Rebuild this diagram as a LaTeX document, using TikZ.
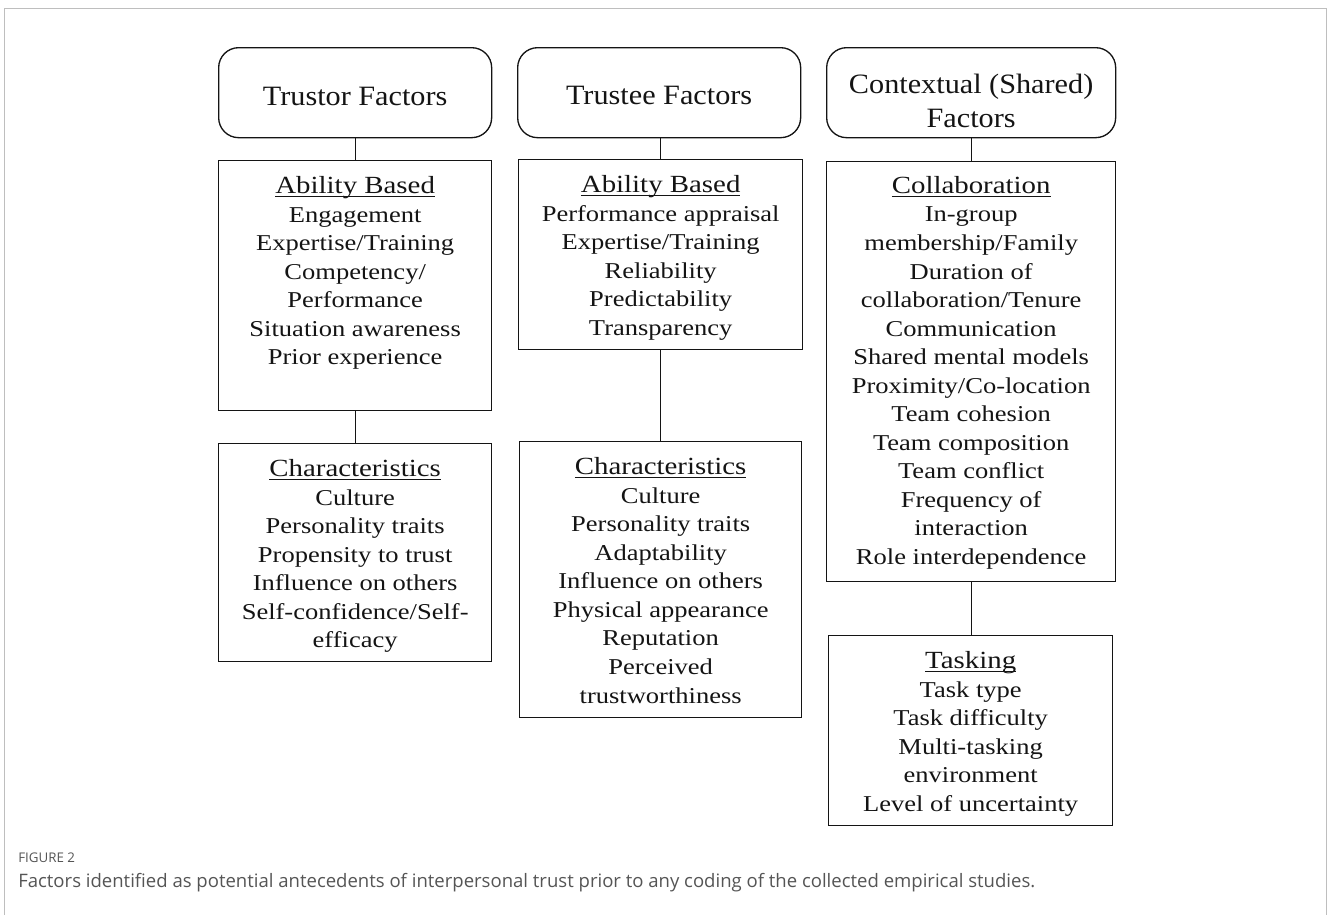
\documentclass[tikz,border=0pt]{standalone}
\usepackage{fontspec}
\setmainfont{Liberation Serif}
\newfontfamily\bodyfont[FakeStretch=1.17]{Liberation Serif}
\newfontfamily\hdrfont[FakeStretch=1.08]{Liberation Serif}
\newfontfamily\capfont{Open Sans}
\usepackage{xcolor}
\usepackage{tikz}

\definecolor{framegray}{RGB}{190,190,190}
\definecolor{capgray}{RGB}{85,85,85}
\definecolor{inkgray}{RGB}{20,20,20}

\newcommand{\ulhead}[1]{{\fontsize{18.5}{21.4}\selectfont\setbox0\hbox{#1}\rlap{\copy0}\rule[-2.4pt]{\wd0}{0.8pt}}}

\begin{document}
\begin{tikzpicture}[x=0.75pt,y=0.75pt,yscale=-1,xscale=1,
  hdrbox/.style={draw=inkgray,line width=1pt,rounded corners=15pt,anchor=north west,minimum height=67.5pt,inner sep=0pt},
  hdrtext/.style={inner sep=0pt,align=center,text=inkgray,font=\hdrfont\fontsize{21}{25.5}\selectfont},
  listbox/.style={draw=inkgray,line width=1pt,anchor=north west,inner sep=0pt},
  listtext/.style={anchor=north,yshift=-12.3pt,inner sep=0pt,align=center,text=inkgray,font=\bodyfont\fontsize{17}{21.4}\selectfont},
  link/.style={draw=inkgray,line width=0.6pt}]
\useasboundingbox (0,0) rectangle (1328,915);
%Shape: Frame
\draw [framegray,line width=0.75pt] (4,915) -- (4,8) -- (1326.5,8) -- (1326.5,915) ;

%Shape: Rounded Rect [trustor]
\node [hdrbox,minimum width=204.75pt] (trustor) at (218,47) {};
%Shape: Rectangle [trustor ability]
\node [listbox,minimum width=204.75pt,minimum height=187.5pt] (torabil) at (218,160) {};
%Shape: Rectangle [trustor characteristics]
\node [listbox,minimum width=204.75pt,minimum height=163.5pt] (torchar) at (218,443) {};

%Shape: Rounded Rect [trustee]
\node [hdrbox,minimum width=212.25pt] (trustee) at (517,47) {};
%Shape: Rectangle [trustee ability]
\node [listbox,minimum width=213pt,minimum height=142.5pt] (teeabil) at (518,159) {};
%Shape: Rectangle [trustee characteristics]
\node [listbox,minimum width=211.5pt,minimum height=207pt] (teechar) at (519,441) {};

%Shape: Rounded Rect [contextual]
\node [hdrbox,minimum width=216.75pt] (context) at (826,47) {};
%Shape: Rectangle [collaboration]
\node [listbox,minimum width=216.75pt,minimum height=315pt] (collab) at (826,161) {};
%Shape: Rectangle [tasking]
\node [listbox,minimum width=213pt,minimum height=142.5pt] (tasking) at (828,635) {};

%Straight Lines
\draw [link] (trustor.south -| torabil.north) -- (torabil.north) ;
\draw [link] (torabil.south) -- (torabil.south |- torchar.north) ;
\draw [link] (trustee.south -| teeabil.north) -- (teeabil.north) ;
\draw [link] (teeabil.south) -- (teeabil.south |- teechar.north) ;
\draw [link] (context.south) -- (context.south |- collab.north) ;
\draw [link] (collab.south) -- (collab.south |- tasking.north) ;

% Text Node
\node [hdrtext,yshift=-3pt] (trustortxt) at (trustor.center) {Trustor Factors};
% Text Node
\node [hdrtext,yshift=-2pt] (trusteetxt) at (trustee.center) {Trustee Factors};
% Text Node
\node [hdrtext,yshift=-6pt] (contexttxt) at (context.center) {Contextual (Shared)\\Factors};

% Text Node
\node [listtext] (torabiltxt) at (torabil.north) {\ulhead{Ability Based}\\Engagement\\Expertise/Training\\Competency/\\Performance\\Situation awareness\\Prior experience};
% Text Node
\node [listtext] (torchartxt) at (torchar.north) {\ulhead{Characteristics}\\Culture\\Personality traits\\Propensity to trust\\Influence on others\\Self-confidence/Self-\\efficacy};
% Text Node
\node [listtext] (teeabiltxt) at (teeabil.north) {\ulhead{Ability Based}\\Performance appraisal\\Expertise/Training\\Reliability\\Predictability\\Transparency};
% Text Node
\node [listtext] (teechartxt) at (teechar.north) {\ulhead{Characteristics}\\Culture\\Personality traits\\Adaptability\\Influence on others\\Physical appearance\\Reputation\\Perceived\\trustworthiness};
% Text Node
\node [listtext,yshift=1pt] (collabtxt) at (collab.north) {\ulhead{Collaboration}\\In-group\\membership/Family\\Duration of\\collaboration/Tenure\\Communication\\Shared mental models\\Proximity/Co-location\\Team cohesion\\Team composition\\Team conflict\\Frequency of\\interaction\\Role interdependence};
% Text Node
\node [listtext] (taskingtxt) at (tasking.north) {\ulhead{Tasking}\\Task type\\Task difficulty\\Multi-tasking\\environment\\Level of uncertainty};

% Text Node
\node [anchor=west,inner sep=0pt,text=capgray,font=\capfont\fontsize{10}{12}\selectfont] (figlabel) at (18,857.5) {FIGURE 2};
% Text Node
\node [anchor=west,inner sep=0pt,text=capgray,font=\capfont\fontsize{13.9}{16}\selectfont] (figcaption) at (18,882.5) {Factors identified as potential antecedents of interpersonal trust prior to any coding of the collected empirical studies.};
\end{tikzpicture}
\end{document}
